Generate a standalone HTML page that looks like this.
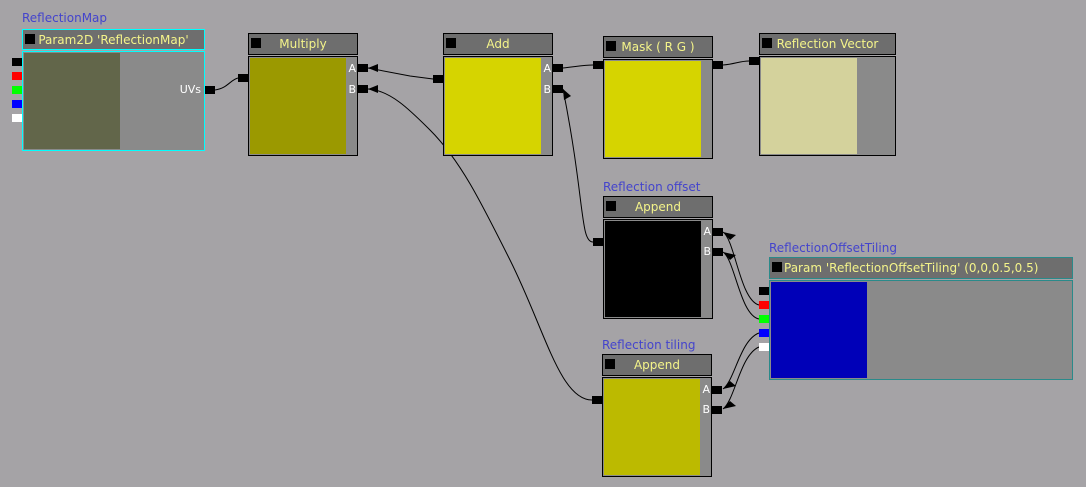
<!DOCTYPE html>
<html><head><meta charset="utf-8"><style>
body{margin:0;width:1086px;height:487px;background:#a5a3a6;position:relative;overflow:hidden;font-family:"DejaVu Sans","Liberation Sans",sans-serif;}
div{position:absolute;box-sizing:border-box;}
.h{background:#6e6e6e;border:1px solid #000;color:#f4f48a;font-size:12px;line-height:21px;text-align:center;}
.h i{position:absolute;left:2px;top:4px;width:10px;height:10px;background:#000;}
.b{background:#8a8a8a;border:1px solid #000;}
.p{top:1px;left:1px;}
.c{background:#000;width:10px;height:8px;}
.l{color:#4444cc;font-size:12px;}
.t{color:#fff;font-size:11px;}
</style></head><body>
<svg width="1086" height="487" style="position:absolute;left:0;top:0" fill="none" stroke="#000" stroke-width="1">
<path d="M215 90 C228 88,230 80,238 78"/>
<path d="M433 79 L410 76 L368 68"/>
<path d="M592 400 C560 400,545 330,510 260 C480 200,460 160,430 130 C410 110,390 90,368 89"/>
<path d="M593 242 C580 242,585 200,563 89"/>
<path d="M563 68 C580 66,585 65,593 65"/>
<path d="M723 65 C735 64,740 61,749 61"/>
<path d="M759 305 C740 300,735 240,723 232"/>
<path d="M759 319 C740 315,735 260,723 252"/>
<path d="M759 333 C740 340,735 380,723 389"/>
<path d="M759 347 C740 355,735 400,723 409"/>
<g fill="#000" stroke="none">
<polygon points="368,68 378,64 378,72"/>
<polygon points="368,89 378,85 378,93"/>
<polygon points="563,89 564,100 571,96"/>
<polygon points="723,232 730,240 736,235"/>
<polygon points="723,252 730,260 736,255"/>
<polygon points="723,389 730,381 736,386"/>
<polygon points="723,409 730,401 736,406"/>
</g>
</svg>

<div class="l" style="left:22px;top:11px">ReflectionMap</div>
<div class="h" style="left:22px;top:29px;width:183px;height:21px;border-color:#0ff"><i></i>Param2D 'ReflectionMap'</div>
<div class="b" style="left:22px;top:51px;width:183px;height:100px;border-color:#0ff"><div class="p" style="width:96px;height:96px;background:#62664a"></div><div class="t" style="right:3px;top:31px">UVs</div></div>
<div class="c" style="left:12px;top:58px"></div><div class="c" style="left:12px;top:72px;background:#f00"></div><div class="c" style="left:12px;top:86px;background:#0f0"></div><div class="c" style="left:12px;top:100px;background:#00f"></div><div class="c" style="left:12px;top:114px;background:#fff"></div>
<div class="c" style="left:205px;top:86px"></div>

<div class="h" style="left:248px;top:33px;width:110px;height:22px"><i></i>Multiply</div>
<div class="b" style="left:248px;top:56px;width:110px;height:100px"><div class="p" style="width:96px;height:96px;background:#9b9900"></div><div class="t" style="right:1px;top:5px">A</div><div class="t" style="right:1px;top:26px">B</div></div>
<div class="c" style="left:238px;top:74px"></div><div class="c" style="left:358px;top:64px"></div><div class="c" style="left:358px;top:85px"></div>

<div class="h" style="left:443px;top:33px;width:110px;height:22px"><i></i>Add</div>
<div class="b" style="left:443px;top:56px;width:110px;height:100px"><div class="p" style="width:96px;height:96px;background:#d6d400"></div><div class="t" style="right:1px;top:5px">A</div><div class="t" style="right:1px;top:26px">B</div></div>
<div class="c" style="left:433px;top:75px"></div><div class="c" style="left:553px;top:64px"></div><div class="c" style="left:553px;top:85px"></div>

<div class="h" style="left:603px;top:36px;width:110px;height:22px"><i></i>Mask ( R G )</div>
<div class="b" style="left:603px;top:59px;width:110px;height:100px"><div class="p" style="width:96px;height:96px;background:#d6d400"></div></div>
<div class="c" style="left:593px;top:61px"></div><div class="c" style="left:713px;top:61px"></div>

<div class="h" style="left:759px;top:33px;width:137px;height:22px"><i></i>Reflection Vector</div>
<div class="b" style="left:759px;top:56px;width:137px;height:100px"><div class="p" style="width:96px;height:96px;background:#d4d29c"></div></div>
<div class="c" style="left:749px;top:57px"></div>

<div class="l" style="left:603px;top:180px">Reflection offset</div>
<div class="h" style="left:603px;top:196px;width:110px;height:22px"><i></i>Append</div>
<div class="b" style="left:603px;top:219px;width:110px;height:100px"><div class="p" style="width:96px;height:96px;background:#000"></div><div class="t" style="right:1px;top:5px">A</div><div class="t" style="right:1px;top:25px">B</div></div>
<div class="c" style="left:593px;top:238px"></div><div class="c" style="left:713px;top:228px"></div><div class="c" style="left:713px;top:248px"></div>

<div class="l" style="left:602px;top:338px">Reflection tiling</div>
<div class="h" style="left:602px;top:354px;width:110px;height:22px"><i></i>Append</div>
<div class="b" style="left:602px;top:377px;width:110px;height:100px"><div class="p" style="width:96px;height:96px;background:#bcba00"></div><div class="t" style="right:1px;top:5px">A</div><div class="t" style="right:1px;top:25px">B</div></div>
<div class="c" style="left:592px;top:396px"></div><div class="c" style="left:712px;top:386px"></div><div class="c" style="left:712px;top:406px"></div>

<div class="l" style="left:769px;top:241px">ReflectionOffsetTiling</div>
<div class="h" style="left:769px;top:257px;width:304px;height:22px;border-color:#2a8a8a;text-align:left;padding-left:14px"><i></i>Param 'ReflectionOffsetTiling' (0,0,0.5,0.5)</div>
<div class="b" style="left:769px;top:280px;width:304px;height:100px;border-color:#2a8a8a"><div class="p" style="width:96px;height:96px;background:#0000b8"></div></div>
<div class="c" style="left:759px;top:287px"></div><div class="c" style="left:759px;top:301px;background:#f00"></div><div class="c" style="left:759px;top:315px;background:#0f0"></div><div class="c" style="left:759px;top:329px;background:#00f"></div><div class="c" style="left:759px;top:343px;background:#fff"></div>
</body></html>
